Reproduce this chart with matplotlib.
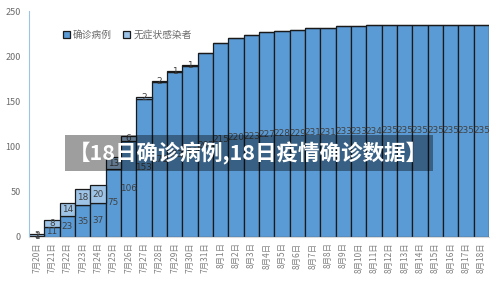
import matplotlib
matplotlib.use("Agg")
import matplotlib.pyplot as plt
from matplotlib.patches import Rectangle
import numpy as np

plt.rcParams["font.family"] = ["Noto Sans CJK SC", "DejaVu Sans"]

DATES = ([f"7月{d}日" for d in range(20, 32)] +
         [f"8月{d}日" for d in range(1, 19)])
CONFIRMED = [1, 11, 23, 35, 37, 75, 106, 153, 171, 183, 189, 203,
             215, 220, 223, 227, 228, 229, 231, 231, 233, 233, 234,
             235, 235, 235, 235, 235, 235, 235]
ASYMPTOMATIC = [2, 8, 14, 18, 20, 13, 6, 2, 2, 1, 1, 0,
                0, 0, 0, 0, 0, 0, 0, 0, 0, 0, 0,
                0, 0, 0, 0, 0, 0, 0]
YTICKS = [0, 50, 100, 150, 200, 250]

BLUE = "#5b9bd5"
LIGHT = "#9dc3e6"
EDGE = "#1a1a1a"
LABEL = "#404040"
AXIS = "#9dc3e6"
TICK = "#6b6b6b"
NUMFONT = ["Liberation Sans Narrow", "DejaVu Sans"]

fig = plt.figure(figsize=(5, 3.06), dpi=100, facecolor="white")
ax = fig.add_axes([0.058, 0.226, 0.92, 0.738])

x = np.arange(len(DATES))
conf = np.array(CONFIRMED)
asym = np.array(ASYMPTOMATIC)
ax.bar(x, conf, width=1.0, color=BLUE, edgecolor=EDGE, linewidth=0.9,
       label="确诊病例")
ax.bar(x, asym, width=1.0, bottom=conf, color=LIGHT, edgecolor=EDGE,
       linewidth=0.9, label="无症状感染者")

for i in x:
    ax.text(i, conf[i] / 2, str(conf[i]), ha="center", va="center",
            fontsize=6.4, color=LABEL, family=NUMFONT)
    if asym[i] > 0:
        ax.text(i, conf[i] + asym[i] / 2, str(asym[i]), ha="center",
                va="center", fontsize=6.4, color=LABEL, family=NUMFONT)

ax.set_xlim(-0.5, len(DATES) - 0.5)
ax.set_ylim(0, 250)
ax.set_yticks(YTICKS)
ax.set_xticks(x)
ax.set_xticklabels(DATES, rotation=90, fontsize=6, color="#808080")
ax.tick_params(axis="y", labelsize=6.5, colors=TICK, length=0, pad=6)
ax.tick_params(axis="x", length=0, pad=4)
for side in ("top", "right"):
    ax.spines[side].set_visible(False)
ax.spines["left"].set_color(AXIS)
ax.spines["bottom"].set_color("#d9d9d9")

ax.legend(loc="upper left", bbox_to_anchor=(0.055, 0.955), ncol=2, frameon=False,
          prop={"size": 7}, handlelength=0.7, handleheight=0.7, handletextpad=0.3,
          columnspacing=1.2, labelcolor=TICK)

# title banner over the chart
fig.patches.append(Rectangle((0.13, 0.441), 0.736, 0.118, transform=fig.transFigure,
                             facecolor="black", alpha=0.38, edgecolor="none"))
fig.text(0.497, 0.5, "【18日确诊病例,18日疫情确诊数据】", ha="center", va="center",
         fontsize=15.5, fontweight="bold", color="white")

fig.savefig("out.png", dpi=100, facecolor="white")
